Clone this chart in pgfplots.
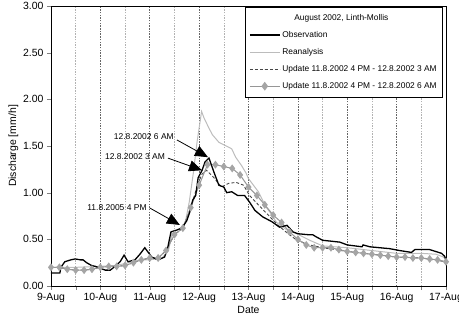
\documentclass[border=0pt]{standalone}
\usepackage{fontspec}
\setmainfont{Liberation Sans}
\usepackage{pgfplots}
\pgfplotsset{compat=1.18}
\usetikzlibrary{arrows.meta}

\definecolor{obs}{RGB}{0,0,0}
\definecolor{rean}{RGB}{188,188,188}
\definecolor{updA}{RGB}{70,70,70}
\definecolor{updB}{RGB}{150,150,150}
\definecolor{updBfill}{RGB}{165,165,165}

\begin{document}
\begin{tikzpicture}
\begin{axis}[
  at={(0,0)}, anchor=south west,
  scale only axis,
  width=395bp, height=280bp,
  xmin=0, xmax=8, ymin=0, ymax=3,
  xtick={0,1,2,3,4,5,6,7,8},
  xticklabels={9-Aug,10-Aug,11-Aug,12-Aug,13-Aug,14-Aug,15-Aug,16-Aug,17-Aug},
  minor xtick={0.5,1.5,2.5,3.5,4.5,5.5,6.5,7.5},
  ytick={0,0.5,1,1.5,2,2.5,3},
  yticklabel style={/pgf/number format/.cd, fixed, fixed zerofill, precision=2, assume math mode=true},
  tick label style={font=\fontsize{10.5}{12}\selectfont},
  label style={font=\fontsize{10.5}{12}\selectfont},
  xlabel={Date}, ylabel={Discharge [mm/h]},
  xlabel style={yshift=4bp},
  ylabel style={yshift=-2bp},
  tick align=outside,
  xtick pos=bottom, ytick pos=left,
  major tick length=4bp, minor tick length=4bp,
  xmajorgrids, xminorgrids,
  major grid style={draw=black!60, dash pattern=on 1.5bp off 1.2bp, line width=0.6pt},
  minor grid style={draw=black!30, dash pattern=on 1.5bp off 1.2bp, line width=0.6pt},
  axis line style={line width=0.8pt},
  legend cell align=left,
  legend image code/.code={\draw[mark repeat=2,mark phase=2,#1] plot coordinates {(0bp,0bp)(15bp,0bp)(30bp,0bp)};},
  legend style={font=\fontsize{8.4}{10}\selectfont, draw=black, fill=white,
    line width=0.6pt,
    at={(1,1)}, anchor=north east, xshift=-3bp, yshift=-1bp,
    row sep=5.5bp, inner xsep=4bp, inner ysep=5bp},
]

% Legend entries (title first)
\addlegendimage{empty legend}
\addlegendentry{\hspace{12bp}August 2002, Linth-Mollis}
\addlegendimage{obs, line width=1.3pt}
\addlegendentry{Observation}
\addlegendimage{rean, line width=1pt}
\addlegendentry{Reanalysis}
\addlegendimage{updA, line width=0.9pt, dash pattern=on 3bp off 2bp}
\addlegendentry{Update 11.8.2002 4 PM - 12.8.2002 3 AM}
\addlegendimage{updB, line width=1pt, mark=diamond*, mark size=3.6bp, mark options={fill=updBfill, draw=updBfill, solid}}
\addlegendentry{Update 11.8.2002 4 PM - 12.8.2002 6 AM}

% Reanalysis
\addplot[rean, line width=1pt, forget plot] coordinates {
(0,0.20) (0.5,0.20) (1.0,0.21) (1.3,0.22) (1.5,0.24) (1.8,0.28) (2.0,0.28)
(2.25,0.30) (2.38,0.38) (2.45,0.56) (2.55,0.60) (2.65,0.63) (2.72,0.68)
(2.8,0.90) (2.88,1.20) (2.96,1.55) (3.05,1.87) (3.1,1.80) (3.2,1.69)
(3.27,1.62) (3.4,1.54) (3.55,1.50) (3.66,1.47) (3.74,1.38) (3.86,1.29)
(3.95,1.21) (4.0,1.15) (4.2,1.01) (4.35,0.85) (4.45,0.78) (4.57,0.68)
(4.78,0.60) (4.98,0.56) (5.24,0.49) (5.5,0.43) (6.0,0.41) (6.5,0.38)
(7.0,0.35) (7.5,0.35) (7.8,0.34) (7.95,0.31) (8.0,0.28)
};

% Update 11.8.2002 4 PM - 12.8.2002 3 AM
\addplot[updA, line width=0.9pt, dash pattern=on 3bp off 2bp, forget plot] coordinates {
(0,0.20) (0.17,0.20) (0.33,0.18) (0.5,0.17) (0.67,0.17) (0.83,0.18)
(1.0,0.20) (1.17,0.21) (1.33,0.21) (1.5,0.22) (1.67,0.25) (1.83,0.28)
(2.0,0.30) (2.17,0.30) (2.33,0.38) (2.5,0.55) (2.67,0.62) (2.83,0.84)
(2.98,1.10) (3.06,1.20) (3.15,1.24) (3.3,1.16) (3.45,1.06) (3.6,1.10)
(3.75,1.11) (3.9,1.08) (4.02,0.97) (4.2,0.87) (4.4,0.76) (4.6,0.65)
(4.78,0.57) (4.98,0.49) (5.24,0.44) (5.5,0.41) (6.0,0.37) (6.5,0.34)
(7.0,0.31) (7.5,0.30) (8.0,0.26)
};

% Update 11.8.2002 4 PM - 12.8.2002 6 AM
\addplot[updB, line width=1pt, mark=diamond*, mark size=3.2bp,
  mark options={fill=updBfill, draw=updBfill, solid}, forget plot] coordinates {
(0,0.20) (0.17,0.20) (0.33,0.18) (0.5,0.17) (0.67,0.17) (0.83,0.18)
(1.0,0.20) (1.17,0.21) (1.33,0.21) (1.5,0.22) (1.67,0.25) (1.83,0.28)
(2.0,0.30) (2.17,0.30) (2.33,0.38) (2.5,0.55) (2.67,0.62) (2.83,0.84)
(3.0,1.08) (3.17,1.30) (3.33,1.30) (3.5,1.28) (3.67,1.26) (3.83,1.19)
(4.0,1.06) (4.17,0.97) (4.33,0.87) (4.5,0.76) (4.67,0.68) (4.83,0.58)
(5.0,0.50) (5.17,0.44) (5.33,0.41) (5.5,0.41) (5.67,0.41) (5.83,0.39)
(6.0,0.37) (6.17,0.36) (6.33,0.35) (6.5,0.34) (6.67,0.33) (6.83,0.32)
(7.0,0.31) (7.17,0.31) (7.33,0.30) (7.5,0.30) (7.67,0.29) (7.83,0.28)
(8.0,0.26)
};

% Observation
\addplot[obs, line width=1.3pt, forget plot] coordinates {
(0,0.14) (0.18,0.14) (0.2,0.20) (0.28,0.26) (0.4,0.28) (0.49,0.29)
(0.6,0.28) (0.65,0.28) (0.72,0.25) (0.82,0.22) (0.9,0.21) (1.0,0.19)
(1.1,0.17) (1.2,0.17) (1.25,0.19) (1.4,0.26) (1.48,0.33) (1.56,0.26)
(1.7,0.28) (1.8,0.34) (1.9,0.41) (2.04,0.31) (2.17,0.28) (2.3,0.31)
(2.36,0.40) (2.43,0.58) (2.55,0.60) (2.65,0.62) (2.75,0.70) (2.81,0.79)
(2.87,0.92) (2.93,0.97) (2.98,1.16) (3.06,1.24) (3.12,1.33) (3.2,1.37)
(3.3,1.22) (3.4,1.08) (3.5,1.06) (3.56,1.00) (3.66,1.01) (3.78,0.97)
(3.92,0.97) (4.02,0.90) (4.13,0.81) (4.29,0.74) (4.47,0.69) (4.63,0.63)
(4.78,0.65) (4.9,0.58) (5.0,0.56) (5.2,0.55) (5.3,0.55) (5.36,0.53)
(5.5,0.49) (5.85,0.47) (6.0,0.44) (6.3,0.42) (6.32,0.44) (6.46,0.42)
(6.86,0.40) (7.06,0.38) (7.3,0.36) (7.37,0.39) (7.67,0.39) (7.91,0.35)
(7.97,0.32) (8.0,0.28)
};

% Annotations for the forecast issue times
\begin{scope}[font=\fontsize{8.5}{10}\selectfont]
\node[anchor=east, inner sep=1bp] at (axis cs:2.51,1.60) {12.8.2002 6 AM};
\draw[line width=0.8pt, -{Triangle[length=13bp,width=11bp]}] (axis cs:2.55,1.565) -- (axis cs:3.18,1.38);
\node[anchor=east, inner sep=1bp] at (axis cs:2.33,1.385) {12.8.2002 3 AM};
\draw[line width=0.8pt, -{Triangle[length=13bp,width=11bp]}] (axis cs:2.37,1.37) -- (axis cs:3.06,1.24);
\node[anchor=east, inner sep=1bp] at (axis cs:1.96,0.84) {11.8.2005 4 PM};
\draw[line width=0.8pt, -{Triangle[length=13bp,width=11bp]}] (axis cs:2.0,0.836) -- (axis cs:2.61,0.654);
\end{scope}
\end{axis}
\pgfresetboundingbox
\path[use as bounding box] (-51bp,-30bp) rectangle (408bp,286bp);
\end{tikzpicture}
\end{document}
